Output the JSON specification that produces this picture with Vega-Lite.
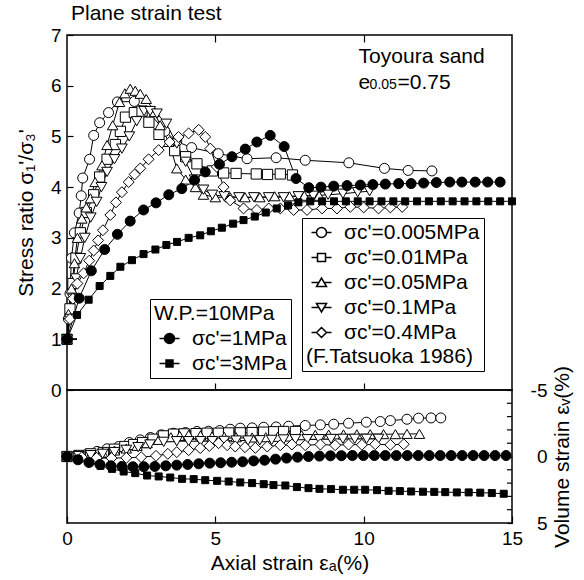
{
"$schema":"https://vega.github.io/schema/vega-lite/v6.json",
"padding":{"left":14,"top":2,"right":2,"bottom":2},
"config":{
 "font":"Liberation Sans",
 "view":{"stroke":"black","strokeWidth":1.5},
 "axis":{"domain":false,"grid":false,"labelFontSize":19,"labelColor":"black","tickColor":"black","tickWidth":1.2,"titleFontSize":21,"titleFontWeight":"normal","titleColor":"black","labelFont":"Liberation Sans","titleFont":"Liberation Sans","labelFlush":false,"labelOverlap":false},
 "legend":{"labelFont":"Liberation Sans","titleFont":"Liberation Sans","labelFontSize":21,"titleFontSize":21,"titleFontWeight":"normal","labelColor":"black","titleColor":"black","strokeColor":"black","fillColor":"white","labelLimit":300,"titleLimit":300},
 "text":{"font":"Liberation Sans","color":"black"}
},
"datasets":{
"stress":[
{"s":"0.005","x":0,"y":1.0},{"s":"0.005","x":0.05,"y":1.4},{"s":"0.005","x":0.1,"y":1.9},{"s":"0.005","x":0.15,"y":2.6},{"s":"0.005","x":0.25,"y":3.1},{"s":"0.005","x":0.41,"y":3.49},{"s":"0.005","x":0.48,"y":3.83},{"s":"0.005","x":0.53,"y":4.18},{"s":"0.005","x":0.76,"y":4.55},{"s":"0.005","x":0.9,"y":5.02},{"s":"0.005","x":1.1,"y":5.27},{"s":"0.005","x":1.4,"y":5.47},{"s":"0.005","x":1.7,"y":5.68},{"s":"0.005","x":2.27,"y":5.69},{"s":"0.005","x":2.8,"y":5.45},{"s":"0.005","x":3.3,"y":5.1},{"s":"0.005","x":3.7,"y":4.9},{"s":"0.005","x":4.2,"y":4.78},{"s":"0.005","x":5.1,"y":4.66},{"s":"0.005","x":6.07,"y":4.56},{"s":"0.005","x":7.05,"y":4.58},{"s":"0.005","x":8.03,"y":4.53},{"s":"0.005","x":9.5,"y":4.48},{"s":"0.005","x":10.7,"y":4.37},{"s":"0.005","x":11.5,"y":4.33},{"s":"0.005","x":12.3,"y":4.32},
{"s":"0.01","x":0,"y":1.0},{"s":"0.01","x":0.1,"y":1.6},{"s":"0.01","x":0.2,"y":2.1},{"s":"0.01","x":0.3,"y":2.6},{"s":"0.01","x":0.45,"y":3.1},{"s":"0.01","x":0.65,"y":3.5},{"s":"0.01","x":0.9,"y":3.85},{"s":"0.01","x":1.1,"y":4.2},{"s":"0.01","x":1.35,"y":4.55},{"s":"0.01","x":1.63,"y":4.84},{"s":"0.01","x":1.8,"y":5.1},{"s":"0.01","x":1.97,"y":5.38},{"s":"0.01","x":2.27,"y":5.47},{"s":"0.01","x":2.53,"y":5.5},{"s":"0.01","x":2.76,"y":5.28},{"s":"0.01","x":3.1,"y":5.04},{"s":"0.01","x":3.63,"y":4.72},{"s":"0.01","x":4.0,"y":4.6},{"s":"0.01","x":4.38,"y":4.46},{"s":"0.01","x":4.9,"y":4.32},{"s":"0.01","x":5.28,"y":4.28},{"s":"0.01","x":5.7,"y":4.27},{"s":"0.01","x":6.38,"y":4.26},{"s":"0.01","x":6.76,"y":4.25},{"s":"0.01","x":7.19,"y":4.26},{"s":"0.01","x":7.6,"y":4.24},
{"s":"0.05","x":0,"y":1.0},{"s":"0.05","x":0.05,"y":1.5},{"s":"0.05","x":0.15,"y":2.0},{"s":"0.05","x":0.25,"y":2.5},{"s":"0.05","x":0.35,"y":3.0},{"s":"0.05","x":0.5,"y":3.38},{"s":"0.05","x":0.65,"y":3.6},{"s":"0.05","x":0.79,"y":3.78},{"s":"0.05","x":0.95,"y":4.1},{"s":"0.05","x":1.18,"y":4.43},{"s":"0.05","x":1.35,"y":4.83},{"s":"0.05","x":1.54,"y":5.22},{"s":"0.05","x":1.77,"y":5.68},{"s":"0.05","x":1.95,"y":5.85},{"s":"0.05","x":2.13,"y":5.94},{"s":"0.05","x":2.3,"y":5.9},{"s":"0.05","x":2.47,"y":5.84},{"s":"0.05","x":2.67,"y":5.74},{"s":"0.05","x":2.95,"y":5.48},{"s":"0.05","x":3.14,"y":5.22},{"s":"0.05","x":3.43,"y":4.89},{"s":"0.05","x":3.7,"y":4.37},{"s":"0.05","x":4.0,"y":4.15},{"s":"0.05","x":4.33,"y":4.0},{"s":"0.05","x":4.6,"y":3.85},{"s":"0.05","x":5.0,"y":3.8},{"s":"0.05","x":5.5,"y":3.8},{"s":"0.05","x":6.0,"y":3.8},{"s":"0.05","x":6.5,"y":3.8},{"s":"0.05","x":7.0,"y":3.82},{"s":"0.05","x":7.5,"y":3.82},{"s":"0.05","x":8.0,"y":3.83},{"s":"0.05","x":8.5,"y":3.83},
{"s":"0.1","x":0,"y":1.0},{"s":"0.1","x":0.1,"y":1.4},{"s":"0.1","x":0.2,"y":1.8},{"s":"0.1","x":0.3,"y":2.2},{"s":"0.1","x":0.45,"y":2.6},{"s":"0.1","x":0.6,"y":3.0},{"s":"0.1","x":0.8,"y":3.4},{"s":"0.1","x":1.0,"y":3.71},{"s":"0.1","x":1.16,"y":4.0},{"s":"0.1","x":1.35,"y":4.3},{"s":"0.1","x":1.6,"y":4.55},{"s":"0.1","x":1.85,"y":4.76},{"s":"0.1","x":2.1,"y":5.0},{"s":"0.1","x":2.35,"y":5.3},{"s":"0.1","x":2.6,"y":5.5},{"s":"0.1","x":2.8,"y":5.5},{"s":"0.1","x":3.03,"y":5.45},{"s":"0.1","x":3.35,"y":5.25},{"s":"0.1","x":3.7,"y":4.86},{"s":"0.1","x":4.0,"y":4.5},{"s":"0.1","x":4.3,"y":4.15},{"s":"0.1","x":4.6,"y":3.95},{"s":"0.1","x":4.9,"y":3.85},{"s":"0.1","x":5.3,"y":3.82},{"s":"0.1","x":5.8,"y":3.8},{"s":"0.1","x":6.3,"y":3.8},{"s":"0.1","x":6.8,"y":3.8},{"s":"0.1","x":7.3,"y":3.8},{"s":"0.1","x":7.8,"y":3.82},{"s":"0.1","x":8.3,"y":3.83},{"s":"0.1","x":8.8,"y":3.85},{"s":"0.1","x":9.3,"y":3.87},{"s":"0.1","x":9.8,"y":3.9},{"s":"0.1","x":10.2,"y":3.92},
{"s":"0.4","x":0,"y":1.0},{"s":"0.4","x":0.1,"y":1.4},{"s":"0.4","x":0.2,"y":1.8},{"s":"0.4","x":0.35,"y":2.1},{"s":"0.4","x":0.56,"y":2.3},{"s":"0.4","x":0.75,"y":2.55},{"s":"0.4","x":0.9,"y":2.75},{"s":"0.4","x":1.05,"y":2.95},{"s":"0.4","x":1.21,"y":3.15},{"s":"0.4","x":1.46,"y":3.45},{"s":"0.4","x":1.65,"y":3.7},{"s":"0.4","x":1.85,"y":3.9},{"s":"0.4","x":2.08,"y":4.1},{"s":"0.4","x":2.28,"y":4.25},{"s":"0.4","x":2.47,"y":4.37},{"s":"0.4","x":2.75,"y":4.55},{"s":"0.4","x":3.09,"y":4.73},{"s":"0.4","x":3.46,"y":4.89},{"s":"0.4","x":3.76,"y":4.99},{"s":"0.4","x":4.1,"y":5.06},{"s":"0.4","x":4.44,"y":5.13},{"s":"0.4","x":4.66,"y":4.99},{"s":"0.4","x":4.83,"y":4.76},{"s":"0.4","x":5.05,"y":4.4},{"s":"0.4","x":5.28,"y":4.0},{"s":"0.4","x":5.5,"y":3.74},{"s":"0.4","x":5.95,"y":3.58},{"s":"0.4","x":6.4,"y":3.55},{"s":"0.4","x":6.8,"y":3.58},{"s":"0.4","x":7.19,"y":3.58},{"s":"0.4","x":7.64,"y":3.55},{"s":"0.4","x":8.09,"y":3.55},{"s":"0.4","x":8.6,"y":3.58},{"s":"0.4","x":9.1,"y":3.58},{"s":"0.4","x":9.55,"y":3.61},{"s":"0.4","x":10.0,"y":3.6},{"s":"0.4","x":10.5,"y":3.58},{"s":"0.4","x":10.9,"y":3.6},{"s":"0.4","x":11.3,"y":3.61},
{"s":"1","x":0,"y":1.0},{"s":"1","x":0.41,"y":1.81},{"s":"1","x":0.82,"y":2.35},{"s":"1","x":1.27,"y":2.77},{"s":"1","x":1.7,"y":3.07},{"s":"1","x":2.13,"y":3.33},{"s":"1","x":2.58,"y":3.55},{"s":"1","x":3.0,"y":3.69},{"s":"1","x":3.43,"y":3.85},{"s":"1","x":3.87,"y":3.97},{"s":"1","x":4.3,"y":4.14},{"s":"1","x":4.66,"y":4.3},{"s":"1","x":5.14,"y":4.45},{"s":"1","x":5.56,"y":4.6},{"s":"1","x":6.01,"y":4.75},{"s":"1","x":6.4,"y":4.89},{"s":"1","x":6.85,"y":5.02},{"s":"1","x":7.32,"y":4.8},{"s":"1","x":7.72,"y":4.17},{"s":"1","x":8.15,"y":3.99},{"s":"1","x":8.56,"y":4.0},{"s":"1","x":8.99,"y":4.02},{"s":"1","x":9.44,"y":4.03},{"s":"1","x":9.89,"y":4.04},{"s":"1","x":10.31,"y":4.05},{"s":"1","x":10.73,"y":4.06},{"s":"1","x":11.18,"y":4.07},{"s":"1","x":11.6,"y":4.07},{"s":"1","x":12.02,"y":4.08},{"s":"1","x":12.45,"y":4.09},{"s":"1","x":12.9,"y":4.1},{"s":"1","x":13.31,"y":4.1},{"s":"1","x":13.76,"y":4.1},{"s":"1","x":14.18,"y":4.1},{"s":"1","x":14.6,"y":4.1},
{"s":"3","x":0,"y":1.0},{"s":"3","x":0.34,"y":1.48},{"s":"3","x":0.73,"y":1.78},{"s":"3","x":1.1,"y":2.05},{"s":"3","x":1.46,"y":2.25},{"s":"3","x":1.8,"y":2.43},{"s":"3","x":2.19,"y":2.56},{"s":"3","x":2.58,"y":2.68},{"s":"3","x":2.98,"y":2.77},{"s":"3","x":3.35,"y":2.86},{"s":"3","x":3.71,"y":2.92},{"s":"3","x":4.1,"y":3.0},{"s":"3","x":4.49,"y":3.05},{"s":"3","x":4.85,"y":3.13},{"s":"3","x":5.22,"y":3.2},{"s":"3","x":5.6,"y":3.28},{"s":"3","x":5.95,"y":3.35},{"s":"3","x":6.33,"y":3.42},{"s":"3","x":6.7,"y":3.5},{"s":"3","x":7.07,"y":3.58},{"s":"3","x":7.45,"y":3.64},{"s":"3","x":7.8,"y":3.7},{"s":"3","x":8.2,"y":3.72},{"s":"3","x":8.6,"y":3.72},{"s":"3","x":9.0,"y":3.72},{"s":"3","x":9.4,"y":3.72},{"s":"3","x":9.8,"y":3.72},{"s":"3","x":10.2,"y":3.72},{"s":"3","x":10.6,"y":3.72},{"s":"3","x":11.0,"y":3.72},{"s":"3","x":11.4,"y":3.72},{"s":"3","x":11.8,"y":3.72},{"s":"3","x":12.2,"y":3.72},{"s":"3","x":12.6,"y":3.72},{"s":"3","x":13.0,"y":3.72},{"s":"3","x":13.4,"y":3.72},{"s":"3","x":13.8,"y":3.72},{"s":"3","x":14.2,"y":3.72},{"s":"3","x":14.6,"y":3.72},{"s":"3","x":15.0,"y":3.72}
],
"vol":[
{"s":"0.005","x":0,"v":0},{"s":"0.005","x":0.3,"v":-0.05},{"s":"0.005","x":0.67,"v":-0.18},{"s":"0.005","x":1.01,"v":-0.38},{"s":"0.005","x":1.35,"v":-0.58},{"s":"0.005","x":1.74,"v":-0.75},{"s":"0.005","x":2.1,"v":-1.05},{"s":"0.005","x":2.47,"v":-1.25},{"s":"0.005","x":2.81,"v":-1.43},{"s":"0.005","x":3.18,"v":-1.63},{"s":"0.005","x":3.59,"v":-1.75},{"s":"0.005","x":3.99,"v":-1.8},{"s":"0.005","x":4.38,"v":-1.88},{"s":"0.005","x":4.77,"v":-1.9},{"s":"0.005","x":5.15,"v":-1.95},{"s":"0.005","x":5.5,"v":-2.05},{"s":"0.005","x":5.84,"v":-2.13},{"s":"0.005","x":6.24,"v":-2.15},{"s":"0.005","x":6.63,"v":-2.2},{"s":"0.005","x":7.05,"v":-2.22},{"s":"0.005","x":7.47,"v":-2.28},{"s":"0.005","x":8.03,"v":-2.33},{"s":"0.005","x":8.54,"v":-2.38},{"s":"0.005","x":8.99,"v":-2.43},{"s":"0.005","x":9.49,"v":-2.5},{"s":"0.005","x":10.09,"v":-2.58},{"s":"0.005","x":10.56,"v":-2.63},{"s":"0.005","x":10.9,"v":-2.7},{"s":"0.005","x":11.46,"v":-2.8},{"s":"0.005","x":11.85,"v":-2.88},{"s":"0.005","x":12.27,"v":-2.9},{"s":"0.005","x":12.6,"v":-2.9},
{"s":"0.01","x":0,"v":0},{"s":"0.01","x":0.4,"v":-0.08},{"s":"0.01","x":0.8,"v":-0.2},{"s":"0.01","x":1.23,"v":-0.3},{"s":"0.01","x":1.6,"v":-0.55},{"s":"0.01","x":1.95,"v":-0.75},{"s":"0.01","x":2.25,"v":-0.9},{"s":"0.01","x":2.55,"v":-1.05},{"s":"0.01","x":2.9,"v":-1.3},{"s":"0.01","x":3.25,"v":-1.55},{"s":"0.01","x":3.59,"v":-1.68},{"s":"0.01","x":3.95,"v":-1.7},{"s":"0.01","x":4.35,"v":-1.72},{"s":"0.01","x":4.72,"v":-1.75},{"s":"0.01","x":5.1,"v":-1.75},{"s":"0.01","x":5.45,"v":-1.77},{"s":"0.01","x":5.84,"v":-1.78},{"s":"0.01","x":6.24,"v":-1.8},{"s":"0.01","x":6.63,"v":-1.83},{"s":"0.01","x":6.97,"v":-1.86},{"s":"0.01","x":7.3,"v":-1.88},{"s":"0.01","x":7.7,"v":-1.88},
{"s":"0.05","x":0,"v":0},{"s":"0.05","x":0.4,"v":-0.05},{"s":"0.05","x":0.8,"v":-0.15},{"s":"0.05","x":1.2,"v":-0.3},{"s":"0.05","x":1.6,"v":-0.45},{"s":"0.05","x":2.0,"v":-0.6},{"s":"0.05","x":2.36,"v":-0.8},{"s":"0.05","x":2.7,"v":-1.0},{"s":"0.05","x":3.09,"v":-1.25},{"s":"0.05","x":3.5,"v":-1.45},{"s":"0.05","x":3.8,"v":-1.55},{"s":"0.05","x":4.1,"v":-1.63},{"s":"0.05","x":4.5,"v":-1.58},{"s":"0.05","x":4.89,"v":-1.5},{"s":"0.05","x":5.3,"v":-1.48},{"s":"0.05","x":5.7,"v":-1.45},{"s":"0.05","x":6.24,"v":-1.43},{"s":"0.05","x":6.7,"v":-1.45},{"s":"0.05","x":7.1,"v":-1.48},{"s":"0.05","x":7.47,"v":-1.5},{"s":"0.05","x":7.91,"v":-1.6},{"s":"0.05","x":8.37,"v":-1.63},{"s":"0.05","x":8.82,"v":-1.65},{"s":"0.05","x":9.32,"v":-1.66},{"s":"0.05","x":9.77,"v":-1.67},{"s":"0.05","x":10.22,"v":-1.68},{"s":"0.05","x":10.67,"v":-1.68},{"s":"0.05","x":11.07,"v":-1.68},{"s":"0.05","x":11.46,"v":-1.7},{"s":"0.05","x":11.88,"v":-1.7},
{"s":"0.1","x":0,"v":0},{"s":"0.1","x":0.4,"v":-0.03},{"s":"0.1","x":0.8,"v":-0.1},{"s":"0.1","x":1.2,"v":-0.2},{"s":"0.1","x":1.6,"v":-0.33},{"s":"0.1","x":2.0,"v":-0.5},{"s":"0.1","x":2.4,"v":-0.7},{"s":"0.1","x":2.8,"v":-0.9},{"s":"0.1","x":3.26,"v":-1.1},{"s":"0.1","x":3.7,"v":-1.15},{"s":"0.1","x":4.1,"v":-1.15},{"s":"0.1","x":4.5,"v":-1.15},{"s":"0.1","x":4.9,"v":-1.15},{"s":"0.1","x":5.3,"v":-1.17},{"s":"0.1","x":5.7,"v":-1.2},{"s":"0.1","x":6.1,"v":-1.2},{"s":"0.1","x":6.5,"v":-1.22},{"s":"0.1","x":6.9,"v":-1.25},{"s":"0.1","x":7.3,"v":-1.28},{"s":"0.1","x":7.7,"v":-1.3},{"s":"0.1","x":8.1,"v":-1.3},{"s":"0.1","x":8.5,"v":-1.3},{"s":"0.1","x":8.9,"v":-1.32},{"s":"0.1","x":9.3,"v":-1.33},{"s":"0.1","x":9.7,"v":-1.33},{"s":"0.1","x":10.1,"v":-1.33},{"s":"0.1","x":10.5,"v":-1.33},
{"s":"0.4","x":0,"v":0},{"s":"0.4","x":0.5,"v":0.05},{"s":"0.4","x":1.0,"v":0.1},{"s":"0.4","x":1.5,"v":0.12},{"s":"0.4","x":2.0,"v":0.1},{"s":"0.4","x":2.5,"v":0.05},{"s":"0.4","x":3.0,"v":-0.05},{"s":"0.4","x":3.4,"v":-0.2},{"s":"0.4","x":3.7,"v":-0.33},{"s":"0.4","x":4.1,"v":-0.48},{"s":"0.4","x":4.49,"v":-0.63},{"s":"0.4","x":4.8,"v":-0.8},{"s":"0.4","x":5.11,"v":-1.0},{"s":"0.4","x":5.4,"v":-0.85},{"s":"0.4","x":5.67,"v":-0.75},{"s":"0.4","x":6.0,"v":-0.7},{"s":"0.4","x":6.35,"v":-0.65},{"s":"0.4","x":6.75,"v":-0.75},{"s":"0.4","x":7.19,"v":-0.85},{"s":"0.4","x":7.58,"v":-0.9},{"s":"0.4","x":8.03,"v":-0.85},{"s":"0.4","x":8.54,"v":-0.9},{"s":"0.4","x":9.04,"v":-0.85},{"s":"0.4","x":9.49,"v":-0.9},{"s":"0.4","x":9.94,"v":-0.88},{"s":"0.4","x":10.39,"v":-0.92},{"s":"0.4","x":10.9,"v":-0.88},{"s":"0.4","x":11.35,"v":-0.92},
{"s":"1","x":0,"v":0},{"s":"1","x":0.37,"v":0.25},{"s":"1","x":0.74,"v":0.45},{"s":"1","x":1.11,"v":0.6},{"s":"1","x":1.48,"v":0.7},{"s":"1","x":1.85,"v":0.75},{"s":"1","x":2.22,"v":0.77},{"s":"1","x":2.59,"v":0.77},{"s":"1","x":2.96,"v":0.75},{"s":"1","x":3.33,"v":0.7},{"s":"1","x":3.7,"v":0.65},{"s":"1","x":4.07,"v":0.6},{"s":"1","x":4.44,"v":0.55},{"s":"1","x":4.81,"v":0.5},{"s":"1","x":5.18,"v":0.47},{"s":"1","x":5.55,"v":0.43},{"s":"1","x":5.92,"v":0.4},{"s":"1","x":6.29,"v":0.33},{"s":"1","x":6.66,"v":0.28},{"s":"1","x":7.03,"v":0.2},{"s":"1","x":7.4,"v":0.12},{"s":"1","x":7.77,"v":0.05},{"s":"1","x":8.14,"v":0.0},{"s":"1","x":8.51,"v":-0.03},{"s":"1","x":8.88,"v":-0.05},{"s":"1","x":9.25,"v":-0.06},{"s":"1","x":9.62,"v":-0.07},{"s":"1","x":9.99,"v":-0.07},{"s":"1","x":10.36,"v":-0.07},{"s":"1","x":10.73,"v":-0.07},{"s":"1","x":11.1,"v":-0.07},{"s":"1","x":11.47,"v":-0.07},{"s":"1","x":11.84,"v":-0.07},{"s":"1","x":12.21,"v":-0.07},{"s":"1","x":12.58,"v":-0.07},{"s":"1","x":12.95,"v":-0.07},{"s":"1","x":13.32,"v":-0.07},{"s":"1","x":13.69,"v":-0.07},{"s":"1","x":14.06,"v":-0.07},{"s":"1","x":14.43,"v":-0.07},{"s":"1","x":14.8,"v":-0.07},
{"s":"3","x":0,"v":0},{"s":"3","x":0.37,"v":0.2},{"s":"3","x":0.75,"v":0.45},{"s":"3","x":1.13,"v":0.7},{"s":"3","x":1.52,"v":0.93},{"s":"3","x":1.91,"v":1.13},{"s":"3","x":2.3,"v":1.25},{"s":"3","x":2.7,"v":1.43},{"s":"3","x":3.09,"v":1.5},{"s":"3","x":3.48,"v":1.58},{"s":"3","x":3.88,"v":1.68},{"s":"3","x":4.27,"v":1.7},{"s":"3","x":4.66,"v":1.78},{"s":"3","x":5.06,"v":1.83},{"s":"3","x":5.45,"v":1.88},{"s":"3","x":5.84,"v":1.95},{"s":"3","x":6.24,"v":2.0},{"s":"3","x":6.63,"v":2.08},{"s":"3","x":6.96,"v":2.15},{"s":"3","x":7.36,"v":2.18},{"s":"3","x":7.75,"v":2.3},{"s":"3","x":8.14,"v":2.38},{"s":"3","x":8.51,"v":2.43},{"s":"3","x":8.9,"v":2.45},{"s":"3","x":9.3,"v":2.5},{"s":"3","x":9.68,"v":2.5},{"s":"3","x":10.05,"v":2.5},{"s":"3","x":10.45,"v":2.53},{"s":"3","x":10.84,"v":2.58},{"s":"3","x":11.22,"v":2.6},{"s":"3","x":11.6,"v":2.63},{"s":"3","x":12.0,"v":2.65},{"s":"3","x":12.38,"v":2.66},{"s":"3","x":12.75,"v":2.68},{"s":"3","x":13.14,"v":2.7},{"s":"3","x":13.54,"v":2.7},{"s":"3","x":13.93,"v":2.72},{"s":"3","x":14.32,"v":2.75},{"s":"3","x":14.72,"v":2.8}
]
},
"spacing":0,
"bounds":"flush",
"resolve":{"scale":{"shape":"independent","size":"independent"},"legend":{"shape":"independent","size":"independent"}},
"vconcat":[
{
 "width":445,"height":355,
 "title":{"text":"Plane strain test","anchor":"start","frame":"group","fontSize":21,"fontWeight":"normal","offset":2,"dx":4,"color":"black","font":"Liberation Sans"},
 "layer":[
  {"data":{"name":"stress"},
   "transform":[{"filter":{"field":"x","equal":0}},{"filter":{"field":"s","oneOf":["0.005","0.01","0.05","0.1","0.4"]}}],
   "mark":{"type":"point","filled":true,"fill":"white","stroke":"black","strokeWidth":1,"opacity":1,"size":100,"clip":true},
   "encoding":{
    "x":{"field":"x","type":"quantitative","axis":null},
    "y":{"field":"y","type":"quantitative"},
    "shape":{"field":"s","type":"nominal","scale":{"domain":["0.005","0.01","0.05","0.1","0.4"],"range":["M-2,0L-1,0M1,0L2,0M-1,0A1,1,0,1,1,1,0A1,1,0,1,1,-1,0Z","M-2,0L-0.8,0M0.8,0L2,0M-0.8,-0.8L0.8,-0.8L0.8,0.8L-0.8,0.8Z","M-2,0L-0.53,0M0.53,0L2,0M-1,0.8L1,0.8L0,-0.9Z","M-2,0L-0.53,0M0.53,0L2,0M-1,-0.8L1,-0.8L0,0.9Z","M-2,0L-1,0M1,0L2,0M-1,0L0,-1L1,0L0,1Z"]},
     "legend":{"orient":"none","legendX":235,"legendY":183,"title":"(F.Tatsuoka 1986)","titleOrient":"bottom","titlePadding":3,"padding":4,"rowPadding":3,"symbolOffset":5,"labelOffset":12,
      "labelExpr":"\"σc'=\" + datum.label + \"MPa\""}}}},
  {"data":{"name":"stress"},
   "transform":[{"filter":{"field":"x","equal":0}},{"filter":{"field":"s","oneOf":["1","3"]}}],
   "mark":{"type":"point","filled":true,"fill":"black","stroke":"black","strokeWidth":1,"opacity":1,"size":100,"clip":true},
   "encoding":{
    "x":{"field":"x","type":"quantitative","axis":null},
    "y":{"field":"y","type":"quantitative"},
    "shape":{"field":"s","type":"nominal","scale":{"domain":["1","3"],"range":["M-2,0L-1,0M1,0L2,0M-1,0A1,1,0,1,1,1,0A1,1,0,1,1,-1,0Z","M-2,0L-0.7,0M0.7,0L2,0M-0.7,-0.7L0.7,-0.7L0.7,0.7L-0.7,0.7Z"]},
     "legend":{"orient":"none","legendX":83,"legendY":264,"title":"W.P.=10MPa","padding":4,"rowPadding":3,"symbolOffset":5,"labelOffset":12,"titlePadding":4,
      "labelExpr":"\"σc'=\" + datum.label + \"MPa\""}}}},
  {"data":{"name":"stress"},
   "mark":{"type":"line","color":"black","strokeWidth":1},
   "encoding":{
    "x":{"field":"x","type":"quantitative","scale":{"domain":[0,15],"nice":false},"axis":{"orient":"bottom","values":[5,10],"labels":false,"tickSize":-7,"title":null}},
    "y":{"field":"y","type":"quantitative","scale":{"domain":[0,7],"nice":false},"axis":{"values":[0,1,2,3,4,5,6,7],"tickSize":-6,"labelPadding":12,"title":"Stress ratio   σ₁'/σ₃'","titlePadding":14}},
    "detail":{"field":"s"}}},
  {"data":{"name":"stress"},
   "transform":[{"filter":{"field":"s","oneOf":["0.005","0.01","0.05","0.1","0.4"]}}],
   "mark":{"type":"point","filled":true,"fill":"white","stroke":"black","strokeWidth":1,"opacity":1},
   "encoding":{
    "x":{"field":"x","type":"quantitative","axis":null},
    "y":{"field":"y","type":"quantitative"},
    "shape":{"field":"s","type":"nominal","scale":{"domain":["0.005","0.01","0.05","0.1","0.4"],"range":["circle","square","triangle-up","triangle-down","diamond"]},"legend":null},
    "size":{"field":"s","type":"nominal","scale":{"domain":["0.4","0.1","0.05","0.01","0.005"],"range":[120,100,100,64,110]},"legend":null}}},
  {"data":{"name":"stress"},
   "transform":[{"filter":{"field":"s","oneOf":["1","3"]}}],
   "mark":{"type":"point","filled":true,"fill":"black","stroke":"black","strokeWidth":1,"opacity":1},
   "encoding":{
    "x":{"field":"x","type":"quantitative","axis":null},
    "y":{"field":"y","type":"quantitative"},
    "shape":{"field":"s","type":"nominal","scale":{"domain":["1","3"],"range":["circle","square"]},"legend":null},
    "size":{"field":"s","type":"nominal","scale":{"domain":["3","1"],"range":[49,100]},"legend":null}}},
  {"data":{"values":[{"x":9.83,"y":6.45,"t":"Toyoura sand"},{"x":9.83,"y":5.94,"t":"e"},{"x":11.14,"y":5.94,"t":"=0.75"}]},
   "mark":{"type":"text","align":"left","baseline":"alphabetic","fontSize":21,"color":"black"},
   "encoding":{
    "x":{"field":"x","type":"quantitative","axis":{"orient":"top","values":[5,10],"labels":false,"tickSize":-7,"title":null}},
    "y":{"field":"y","type":"quantitative"},
    "text":{"field":"t"}}},
  {"data":{"values":[{"x":10.2,"y":5.94,"t":"0.05"}]},
   "mark":{"type":"text","align":"left","baseline":"alphabetic","fontSize":14,"color":"black"},
   "encoding":{
    "x":{"field":"x","type":"quantitative","axis":null},
    "y":{"field":"y","type":"quantitative"},
    "text":{"field":"t"}}}
 ],
 "resolve":{"axis":{"x":"independent"},"scale":{"shape":"independent","size":"independent"},"legend":{"shape":"independent","size":"independent"}}
},
{
 "width":445,"height":133,
 "layer":[
  {"data":{"name":"vol"},
   "mark":{"type":"line","color":"black","strokeWidth":1},
   "encoding":{
    "x":{"field":"x","type":"quantitative","scale":{"domain":[0,15],"nice":false},"axis":{"values":[0,5,10,15],"tickSize":-7,"labelPadding":13,"title":"Axial strain εₐ(%)","titlePadding":4}},
    "y":{"field":"v","type":"quantitative","scale":{"domain":[-5,5],"reverse":true,"nice":false},"axis":{"orient":"right","values":[-5,0,5],"tickSize":-5,"labelAlign":"right","labelPadding":40,"labelOverlap":false,"labelExpr":"datum.value < 0 ? '-5' : datum.label","title":"Volume strain εᵥ(%)","titleAngle":270,"titleBaseline":"top","titlePadding":4}},
    "detail":{"field":"s"}}},
  {"data":{"values":[{"v":-4},{"v":-3},{"v":-2},{"v":-1},{"v":1},{"v":2},{"v":3},{"v":4}]},
   "mark":{"type":"rule","color":"black","strokeWidth":1.2},
   "encoding":{
    "x":{"datum":14.83,"type":"quantitative"},
    "x2":{"datum":15},
    "y":{"field":"v","type":"quantitative"}}},
  {"data":{"name":"vol"},
   "transform":[{"filter":{"field":"s","oneOf":["0.005","0.01","0.05","0.1","0.4"]}}],
   "mark":{"type":"point","filled":true,"fill":"white","stroke":"black","strokeWidth":1,"opacity":1},
   "encoding":{
    "x":{"field":"x","type":"quantitative"},
    "y":{"field":"v","type":"quantitative"},
    "shape":{"field":"s","type":"nominal","scale":{"domain":["0.005","0.01","0.05","0.1","0.4"],"range":["circle","square","triangle-up","triangle-down","diamond"]},"legend":null},
    "size":{"field":"s","type":"nominal","scale":{"domain":["0.4","0.1","0.05","0.01","0.005"],"range":[120,100,100,64,121]},"legend":null}}},
  {"data":{"name":"vol"},
   "transform":[{"filter":{"field":"s","oneOf":["1","3"]}}],
   "mark":{"type":"point","filled":true,"fill":"black","stroke":"black","strokeWidth":1,"opacity":1},
   "encoding":{
    "x":{"field":"x","type":"quantitative"},
    "y":{"field":"v","type":"quantitative"},
    "shape":{"field":"s","type":"nominal","scale":{"domain":["1","3"],"range":["circle","square"]},"legend":null},
    "size":{"field":"s","type":"nominal","scale":{"domain":["3","1"],"range":[49,100]},"legend":null}}}
 ],
 "resolve":{"scale":{"shape":"independent","size":"independent"}}
}
]
}
